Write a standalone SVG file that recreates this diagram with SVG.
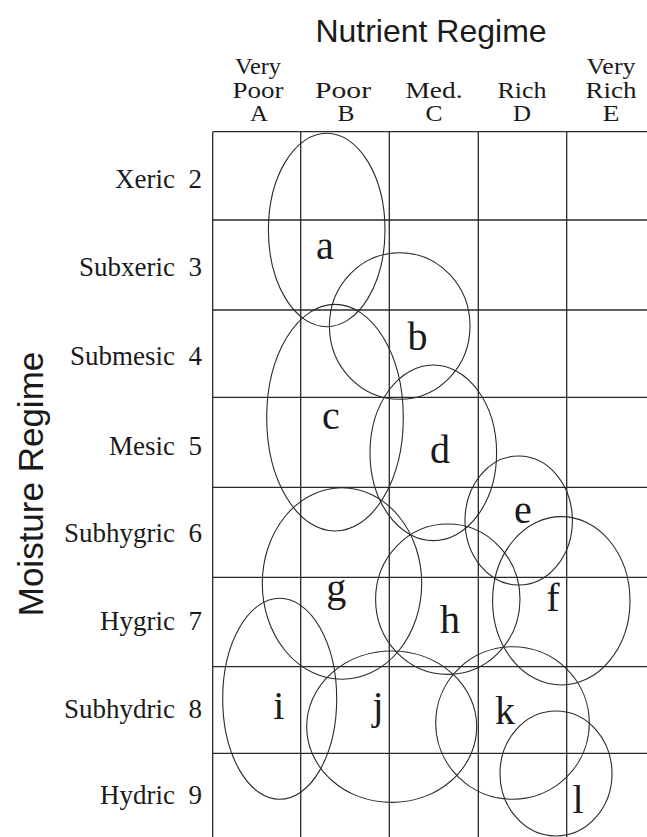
<svg xmlns="http://www.w3.org/2000/svg" width="647" height="837" viewBox="0 0 647 837">
<style>
.grid line{stroke:#2a2a2a;stroke-width:1.3}
.zone ellipse{fill:none;stroke:#2a2a2a;stroke-width:1.1}
.ser{font-family:"Liberation Serif","Times New Roman",serif;fill:#1a1a1a}
.hdr{font-size:23px;text-anchor:middle}
.row{font-size:27px;text-anchor:end}
.lab{font-size:40px;text-anchor:middle}
.sans{font-family:"Liberation Sans",Arial,sans-serif;fill:#1a1a1a;font-size:32px;text-anchor:middle}
</style>
<rect width="647" height="837" fill="#fff"/>
<g id="titles">
<text class="sans" x="431" y="42">Nutrient Regime</text>
<text class="sans" style="font-size:35px" transform="translate(43,484) rotate(-90)">Moisture Regime</text>
</g>
<g id="column-headers" class="ser hdr">
<text x="258" y="74" textLength="46" lengthAdjust="spacingAndGlyphs">Very</text><text x="258" y="98" textLength="51" lengthAdjust="spacingAndGlyphs">Poor</text><text x="259" y="121" textLength="18" lengthAdjust="spacingAndGlyphs">A</text>
<text x="343" y="98" textLength="56" lengthAdjust="spacingAndGlyphs">Poor</text><text x="346" y="121" textLength="17" lengthAdjust="spacingAndGlyphs">B</text>
<text x="434" y="98" textLength="57" lengthAdjust="spacingAndGlyphs">Med.</text><text x="434" y="121" textLength="17" lengthAdjust="spacingAndGlyphs">C</text>
<text x="522" y="98" textLength="49" lengthAdjust="spacingAndGlyphs">Rich</text><text x="522" y="121" textLength="18" lengthAdjust="spacingAndGlyphs">D</text>
<text x="611" y="74" textLength="49" lengthAdjust="spacingAndGlyphs">Very</text><text x="611" y="98" textLength="51" lengthAdjust="spacingAndGlyphs">Rich</text><text x="611" y="121" textLength="17" lengthAdjust="spacingAndGlyphs">E</text>
</g>
<g id="row-headers" class="ser row">
<text x="175" y="188">Xeric</text><text x="202" y="188">2</text>
<text x="175" y="276">Subxeric</text><text x="202" y="276">3</text>
<text x="175" y="365">Submesic</text><text x="202" y="365">4</text>
<text x="175" y="455">Mesic</text><text x="202" y="455">5</text>
<text x="175" y="542">Subhygric</text><text x="202" y="542">6</text>
<text x="175" y="630">Hygric</text><text x="202" y="630">7</text>
<text x="175" y="718">Subhydric</text><text x="202" y="718">8</text>
<text x="175" y="804">Hydric</text><text x="202" y="804">9</text>
</g>
<g id="grid" class="grid">
<line x1="212.7" y1="131.7" x2="647" y2="131.7"/>
<line x1="212.7" y1="220" x2="647" y2="220"/>
<line x1="212.7" y1="310" x2="647" y2="310"/>
<line x1="212.7" y1="397.3" x2="647" y2="397.3"/>
<line x1="212.7" y1="487.3" x2="647" y2="487.3"/>
<line x1="212.7" y1="577.3" x2="647" y2="577.3"/>
<line x1="212.7" y1="666.7" x2="647" y2="666.7"/>
<line x1="212.7" y1="753.3" x2="647" y2="753.3"/>
<line x1="212.7" y1="131.7" x2="212.7" y2="837"/>
<line x1="300.7" y1="131.7" x2="300.7" y2="837"/>
<line x1="389.3" y1="131.7" x2="389.3" y2="837"/>
<line x1="478.3" y1="131.7" x2="478.3" y2="837"/>
<line x1="566.7" y1="131.7" x2="566.7" y2="837"/>
</g>
<g id="zones" class="zone">
<g id="zone-a"><ellipse cx="326.7" cy="230" rx="58.3" ry="96.7"/><text class="ser lab" x="325" y="259">a</text></g>
<g id="zone-b"><ellipse cx="399.7" cy="326" rx="70.3" ry="73.3"/><text class="ser lab" x="417.5" y="350">b</text></g>
<g id="zone-c"><ellipse cx="335" cy="417.7" rx="68.3" ry="113.3"/><text class="ser lab" x="331" y="429">c</text></g>
<g id="zone-d"><ellipse cx="433.3" cy="452.8" rx="63.3" ry="87.8"/><text class="ser lab" x="440" y="463">d</text></g>
<g id="zone-e"><ellipse cx="518.7" cy="520.5" rx="53.7" ry="64.5"/><text class="ser lab" x="523" y="522.5">e</text></g>
<g id="zone-f"><ellipse cx="561.3" cy="600.8" rx="68.7" ry="84.2"/><text class="ser lab" x="553" y="610.5">f</text></g>
<g id="zone-g"><ellipse cx="342" cy="583.5" rx="79.7" ry="95.8"/><text class="ser lab" x="336.3" y="601">g</text></g>
<g id="zone-h"><ellipse cx="447.8" cy="599.2" rx="72.2" ry="75.2"/><text class="ser lab" x="450" y="633">h</text></g>
<g id="zone-i"><ellipse cx="279.7" cy="698.8" rx="57" ry="100.5"/><text class="ser lab" x="278.7" y="719">i</text></g>
<g id="zone-j"><ellipse cx="391.7" cy="726.7" rx="85" ry="75.7"/><text class="ser lab" x="378" y="719">j</text></g>
<g id="zone-k"><ellipse cx="512.5" cy="723" rx="76.8" ry="76.3"/><text class="ser lab" x="505" y="724">k</text></g>
<g id="zone-l"><ellipse cx="556" cy="773.5" rx="56" ry="62.5"/><text class="ser lab" x="578" y="812.5">l</text></g>
</g>
</svg>
